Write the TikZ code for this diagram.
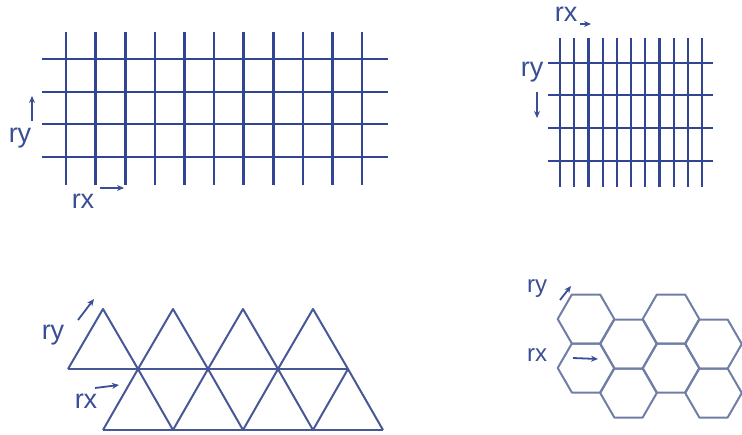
\documentclass[tikz,border=0pt]{standalone}
\usepackage{fontspec}
\setmainfont{Liberation Sans}
\usetikzlibrary{arrows.meta}
\definecolor{gridblue}{RGB}{50,68,148}
\definecolor{triblue}{RGB}{72,88,150}
\definecolor{hexblue}{RGB}{112,126,166}
\definecolor{txtblue}{RGB}{58,78,150}
\tikzset{
  gridline/.style={gridblue, line width=2.6pt},
  fineline/.style={gridblue, line width=2.2pt},
  triline/.style={triblue, line width=2pt, line join=round},
  hexline/.style={hexblue, line width=2pt, line join=round},
  lbl/.style={txtblue, inner sep=0pt, font=\fontsize{27}{27}\selectfont},
  slbl/.style={txtblue, inner sep=0pt, font=\fontsize{24}{24}\selectfont},
  arr/.style={txtblue, line width=1.8pt, -{Stealth[length=7pt,width=6pt]}}
}
\begin{document}
\begin{tikzpicture}[x=1pt,y=-1pt]
\useasboundingbox (0,0) rectangle (742,434);
% ---------- grid 1 ----------
\foreach \i in {0,...,10}
  \draw[gridline] ({66+29.6*\i},32) -- ({66+29.6*\i},185);
\foreach \yy in {59,92,124,157}
  \draw[gridline] (42,\yy) -- (388,\yy);
\node[lbl] (ry1) at (20,138) {ry};
\coordinate (ry1a) at (32,121);
\coordinate (ry1b) at (32,96);
\draw[arr] (ry1a) -- (ry1b);
\node[lbl] (rx1) at (83,201) {rx};
\coordinate (rx1a) at (100,188);
\coordinate (rx1b) at (124,188);
\draw[arr] (rx1a) -- (rx1b);
% ---------- grid 2 ----------
\foreach \i in {0,...,10}
  \draw[fineline] ({560+14.2*\i},38) -- ({560+14.2*\i},187);
\foreach \yy in {63,95,128,161}
  \draw[gridline] (548,\yy) -- (713,\yy);
\node[lbl] (rx2) at (566,14) {rx};
\coordinate (rx2a) at (580,24);
\coordinate (rx2b) at (591,24);
\draw[arr] (rx2a) -- (rx2b);
\node[lbl] (ry2) at (532,72) {ry};
\coordinate (ry2a) at (537,92);
\coordinate (ry2b) at (537,118);
\draw[arr] (ry2a) -- (ry2b);
% ---------- triangles ----------
\draw[triline] (68,369) -- (103,309) -- (138,369) -- (173,309) -- (208,369)
  -- (243,309) -- (278,369) -- (313,309) -- (348,369);
\draw[triline] (68,369) -- (348,369);
\draw[triline] (103,430) -- (138,369) -- (173,430) -- (208,369) -- (243,430)
  -- (278,369) -- (313,430) -- (348,369) -- (383,430);
\draw[triline] (103,430) -- (383,430);
\node[lbl] (ry3) at (53,335) {ry};
\coordinate (ry3a) at (78,320);
\coordinate (ry3b) at (94,299);
\draw[arr] (ry3a) -- (ry3b);
\node[lbl] (rx3) at (86,401) {rx};
\coordinate (rx3a) at (95,388);
\coordinate (rx3b) at (119,385);
\draw[arr] (rx3a) -- (rx3b);
% ---------- hexagons ----------
\foreach \cx/\cy in {586/319, 586/368, 628.5/344, 628.5/393, 671/319, 671/368, 713.5/344, 713.5/393}
  \draw[hexline, shift={(\cx,\cy)}] (28.3,0) -- (14.15,24.5) -- (-14.15,24.5)
    -- (-28.3,0) -- (-14.15,-24.5) -- (14.15,-24.5) -- cycle;
\node[slbl] (ry4) at (537,289) {ry};
\coordinate (ry4a) at (560,300);
\coordinate (ry4b) at (571,286);
\draw[arr] (ry4a) -- (ry4b);
\node[slbl] (rx4) at (537,355) {rx};
\coordinate (rx4a) at (573,358);
\coordinate (rx4b) at (598,359);
\draw[arr] (rx4a) -- (rx4b);
\end{tikzpicture}
\end{document}
